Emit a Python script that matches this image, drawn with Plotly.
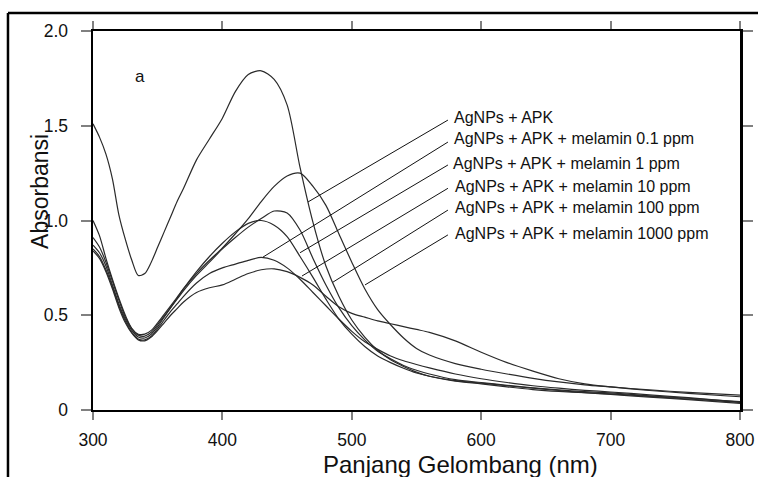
import plotly.graph_objects as go

# ---------------- data ----------------
wavelength = [300, 305, 310, 315, 320, 325, 330, 335, 340, 345, 350, 355, 360, 365, 370, 380, 390,
              400, 410, 420, 430, 440, 450, 460, 470, 480, 490, 500, 510, 520, 530, 540, 550,
              560, 580, 600, 620, 640, 660, 680, 700, 730, 760, 800]

apk = [1.51, 1.44, 1.35, 1.22, 1.03, 0.90, 0.79, 0.71, 0.72, 0.78, 0.86, 0.94, 1.02, 1.10, 1.17, 1.32, 1.43,
       1.54, 1.68, 1.77, 1.79, 1.745, 1.61, 1.28, 0.99, 0.76, 0.60, 0.475, 0.385, 0.315, 0.265, 0.23, 0.20,
       0.178, 0.152, 0.138, 0.122, 0.108, 0.098, 0.091, 0.085, 0.072, 0.058, 0.040]

mel_01 = [0.85, 0.81, 0.74, 0.65, 0.55, 0.47, 0.41, 0.375, 0.37, 0.39, 0.43, 0.475, 0.52, 0.56, 0.60, 0.67, 0.72,
          0.75, 0.77, 0.79, 0.805, 0.79, 0.75, 0.69, 0.62, 0.55, 0.48, 0.415, 0.36, 0.32, 0.285, 0.26, 0.24,
          0.222, 0.19, 0.165, 0.145, 0.128, 0.115, 0.104, 0.095, 0.080, 0.065, 0.042]

mel_1 = [0.87, 0.83, 0.76, 0.66, 0.56, 0.48, 0.42, 0.385, 0.38, 0.40, 0.44, 0.49, 0.54, 0.59, 0.64, 0.73, 0.81,
         0.88, 0.94, 0.985, 1.00, 0.975, 0.915, 0.81, 0.70, 0.585, 0.48, 0.40, 0.335, 0.285, 0.25, 0.22, 0.195,
         0.178, 0.155, 0.142, 0.128, 0.115, 0.103, 0.092, 0.082, 0.068, 0.055, 0.035]

mel_10 = [0.84, 0.80, 0.73, 0.64, 0.54, 0.46, 0.405, 0.37, 0.365, 0.385, 0.42, 0.46, 0.50, 0.535, 0.57, 0.62, 0.645,
          0.66, 0.69, 0.72, 0.74, 0.745, 0.73, 0.70, 0.66, 0.60, 0.545, 0.51, 0.49, 0.47, 0.455, 0.44, 0.425,
          0.41, 0.365, 0.305, 0.25, 0.205, 0.165, 0.138, 0.122, 0.103, 0.088, 0.070]

mel_100 = [0.91, 0.86, 0.78, 0.68, 0.58, 0.49, 0.43, 0.395, 0.39, 0.41, 0.45, 0.495, 0.54, 0.585, 0.63, 0.71, 0.78,
           0.85, 0.91, 0.965, 1.01, 1.05, 1.04, 0.95, 0.80, 0.66, 0.54, 0.445, 0.37, 0.31, 0.27, 0.235, 0.21,
           0.19, 0.16, 0.145, 0.13, 0.117, 0.106, 0.097, 0.090, 0.075, 0.062, 0.044]

mel_1000 = [1.00, 0.92, 0.80, 0.69, 0.59, 0.50, 0.43, 0.40, 0.40, 0.42, 0.46, 0.505, 0.55, 0.595, 0.64, 0.72, 0.79,
            0.855, 0.93, 1.01, 1.10, 1.18, 1.235, 1.25, 1.18, 1.08, 0.93, 0.78, 0.64, 0.53, 0.45, 0.38, 0.325,
            0.29, 0.245, 0.215, 0.19, 0.167, 0.148, 0.133, 0.122, 0.106, 0.093, 0.078]

series_names = ["AgNPs + APK",
                "AgNPs + APK + melamin 0.1 ppm",
                "AgNPs + APK + melamin 1 ppm",
                "AgNPs + APK + melamin 10 ppm",
                "AgNPs + APK + melamin 100 ppm",
                "AgNPs + APK + melamin 1000 ppm"]
series_values = [apk, mel_01, mel_1, mel_10, mel_100, mel_1000]

# leader lines: point on the curves -> label position (data units)
leader_start_wl = [466.2, 431.4, 460.0, 461.5, 485.5, 510.2]
leader_start_abs = [1.098, 0.807, 0.830, 0.707, 0.675, 0.660]
leader_end_wl = [574.3, 574.3, 574.3, 574.3, 574.3, 574.3]
leader_end_abs = [1.530, 1.414, 1.293, 1.170, 1.055, 0.924]
label_wl = [577.8, 577.8, 577.0, 578.2, 578.2, 578.2]
label_abs = [1.541, 1.435, 1.303, 1.182, 1.066, 0.934]

x_ticks = [300, 400, 500, 600, 700, 800]
y_ticks = [0, 0.5, 1.0, 1.5, 2.0]
y_tick_text = ["0", "0.5", "1.0", "1.5", "2.0"]

FONT = "Liberation Sans, Arial, sans-serif"

fig = go.Figure()
for name, vals in zip(series_names, series_values):
    fig.add_trace(go.Scatter(x=wavelength, y=vals, mode="lines", name=name,
                             line=dict(color="#2a2a2a", width=1.2, shape="spline", smoothing=0.8),
                             showlegend=False, hoverinfo="skip"))

for x0, y0, x1, y1 in zip(leader_start_wl, leader_start_abs, leader_end_wl, leader_end_abs):
    fig.add_shape(type="line", xref="x", yref="y", x0=x0, y0=y0, x1=x1, y1=y1,
                  line=dict(color="#111111", width=1))

for name, lx, ly in zip(series_names, label_wl, label_abs):
    fig.add_annotation(x=lx, y=ly, xref="x", yref="y", text=name, showarrow=False,
                       xanchor="left", yanchor="middle",
                       font=dict(family=FONT, size=16, color="#111111"))

# panel letter
fig.add_annotation(x=0.073, y=0.88, xref="paper", yref="paper", text="a", showarrow=False,
                   xanchor="center", yanchor="middle", font=dict(family=FONT, size=17, color="#111111"))

# axis titles
fig.add_annotation(x=0.568, y=-0.144, xref="paper", yref="paper", text="Panjang Gelombang (nm)",
                   showarrow=False, xanchor="center", yanchor="middle",
                   font=dict(family=FONT, size=24, color="#111111"))
fig.add_annotation(x=-0.082, y=0.578, xref="paper", yref="paper", text="Absorbansi",
                   showarrow=False, textangle=-90, xanchor="center", yanchor="middle",
                   font=dict(family=FONT, size=23, color="#111111"))

# outer frame (top and left edges)
fig.add_shape(type="line", xref="paper", yref="paper", x0=-0.1314, y0=1.0475, x1=1.06, y1=1.0475,
              line=dict(color="black", width=2.5))
fig.add_shape(type="line", xref="paper", yref="paper", x0=-0.1314, y0=1.0475, x1=-0.1314, y1=-0.2,
              line=dict(color="black", width=2.5))

fig.update_xaxes(range=[300, 800], tickvals=x_ticks, ticks="outside", ticklen=8, tickwidth=2,
                 tickcolor="#808080", showline=True, linecolor="black", linewidth=2, mirror="ticks",
                 showgrid=False, zeroline=False, ticklabelstandoff=5, automargin=False,
                 tickfont=dict(family=FONT, size=17.5, color="#111111"))
fig.update_yaxes(range=[0, 2], tickvals=y_ticks, ticktext=y_tick_text, ticks="outside", ticklen=10,
                 tickwidth=2, tickcolor="#808080", showline=True, linecolor="black", linewidth=2.5,
                 mirror="ticks", showgrid=False, zeroline=False, ticklabelstandoff=9, automargin=False,
                 tickfont=dict(family=FONT, size=17.5, color="#111111"))

# full-window figure; the page body margin is removed so the plot area lands at x 93-740, y 31-410
fig.update_layout(width=758, height=477, margin=dict(l=93, r=18, t=31, b=67, autoexpand=False),
                  paper_bgcolor="white", plot_bgcolor="white", showlegend=False)

fig.write_html("out.html", config={"displayModeBar": False, "staticPlot": True},
               post_script="document.body.style.margin='0';document.body.style.overflow='hidden';")
